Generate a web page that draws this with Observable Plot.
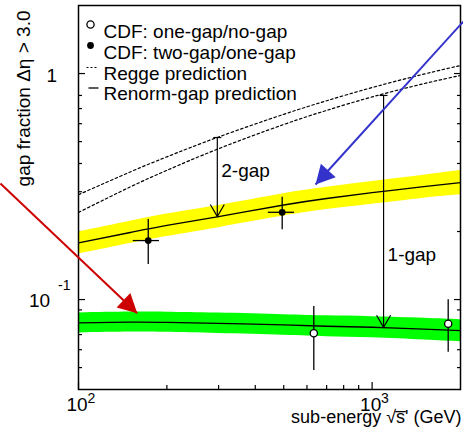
<!DOCTYPE html>
<html><head><meta charset="utf-8">
<script src="https://cdn.jsdelivr.net/npm/d3@7"></script>
<script src="https://cdn.jsdelivr.net/npm/@observablehq/plot@0.6"></script>
<style>body{margin:0;background:#fff} svg{display:block}</style>
</head><body><div id="chart"></div>
<script>
// ---- data ----
const energy        = [100, 150, 200, 300, 500, 700, 1000, 1500, 2000];
const renormTwoGap   = [0.178, 0.198, 0.213, 0.233, 0.262, 0.280, 0.297, 0.316, 0.329];
const renormTwoGapLo = [0.159, 0.177, 0.190, 0.208, 0.234, 0.250, 0.264, 0.281, 0.291];
const renormTwoGapHi = [0.199, 0.222, 0.239, 0.261, 0.294, 0.314, 0.333, 0.355, 0.372];
const renormOneGap   = [0.0788, 0.0795, 0.0793, 0.0785, 0.0772, 0.0762, 0.0754, 0.0740, 0.0728];
const renormOneGapLo = [0.0712, 0.0718, 0.0716, 0.0707, 0.0695, 0.0685, 0.0677, 0.0662, 0.0650];
const renormOneGapHi = [0.0872, 0.0880, 0.0879, 0.0871, 0.0857, 0.0847, 0.0840, 0.0827, 0.0815];
const reggeTwoGap    = [0.291, 0.367, 0.428, 0.524, 0.660, 0.758, 0.867, 0.994, 1.085];
const reggeOneGap    = [0.243, 0.315, 0.373, 0.465, 0.595, 0.687, 0.788, 0.902, 0.980];

// CDF one-gap/no-gap (open circles)
const cdfOneE   = [633, 1816];
const cdfOneVal = [0.0709, 0.0781];
const cdfOneLo  = [0.0485, 0.0585];
const cdfOneHi  = [0.0931, 0.0997];
// CDF two-gap/one-gap (filled)
const cdfTwoE    = [172.8, 494];
const cdfTwoELo  = [153.6, 443];
const cdfTwoEHi  = [188.7, 544];
const cdfTwoVal  = [0.1824, 0.2433];
const cdfTwoLo   = [0.1428, 0.2034];
const cdfTwoHi   = [0.226, 0.2836];

// gap arrows
const gapArrowE      = [297, 1094];
const gapArrowTop    = [0.521, 0.80];
const gapArrowBottom = [0.233, 0.0754];
const gapLabels      = ["2-gap", "1-gap"];
const gapLabelY      = [0.372, 0.158];

// coloured annotation arrows
const annotX1 = [54.2, 2340];
const annotY1 = [0.326, 2.061];
const annotX2 = [158.5, 641.7];
const annotY2 = [0.087, 0.3228];
const annotColors = ["#cc0000", "#3333cc"];
const annotAngles = [133.5, -137.8];

// axes
const xMajorTicks = [100, 1000];
const xExponents  = ["2", "3"];
const xMinorTicks = [200, 300, 400, 500, 600, 700, 800, 900];
const yMajorTicks = [0.1, 1];
const yMinorTicks = [0.05, 0.06, 0.07, 0.08, 0.09, 0.2, 0.3, 0.4, 0.5, 0.6, 0.7, 0.8];
const legendLabels = ["CDF: one-gap/no-gap", "CDF: two-gap/one-gap", "Regge prediction", "Renorm-gap prediction"];
const xTitle = "sub-energy \u221As\u0305' (GeV)";
const yTitle = "gap fraction \u0394\u03B7 > 3.0";

// ---- symbols ----
const capSym = {draw(c){ c.moveTo(-4,0); c.lineTo(4,0); }};
const vHeadSym = {draw(c){ c.moveTo(-7,-12); c.lineTo(0,0); c.lineTo(7,-12); }};
const triSym = {draw(c){ c.moveTo(0,0); c.lineTo(-10,19); c.lineTo(10,19); c.closePath(); }};
const hLineSym = (a, b) => ({draw(c){ c.moveTo(a,0); c.lineTo(b,0); }});

const FONT = "'Liberation Sans', Arial, Helvetica, sans-serif";
const I9 = d3.range(energy.length);
const I2 = [0, 1];
const noLabel = {tickFormat: () => "", label: null, strokeWidth: 1.2};

const marks = [
  // inward ticks (library axes, negative tick size)
  Plot.axisX(xMajorTicks, {anchor: "bottom", tickSize: -7, ...noLabel}),
  Plot.axisX(xMinorTicks, {anchor: "bottom", tickSize: -4, ...noLabel}),
  Plot.axisY(yMajorTicks, {anchor: "left", tickSize: -7, ...noLabel}),
  Plot.axisY(yMinorTicks, {anchor: "left", tickSize: -4, ...noLabel}),
  Plot.axisY(yMajorTicks, {anchor: "right", tickSize: -7, ...noLabel}),
  Plot.axisY(yMinorTicks, {anchor: "right", tickSize: -4, ...noLabel}),
  // tick labels
  Plot.text(xMajorTicks, {x: d => d, text: () => "10", frameAnchor: "bottom", dx: -12, dy: 21.5, textAnchor: "start", fontSize: 19, fontFamily: FONT}),
  Plot.text(xMajorTicks, {x: d => d, text: (d, i) => xExponents[i], frameAnchor: "bottom", dx: 9, dy: 13, textAnchor: "start", fontSize: 14, fontFamily: FONT}),
  Plot.text([1], {y: d => d, text: () => "1", frameAnchor: "left", dx: -21.5, dy: 2, textAnchor: "end", fontSize: 19, fontFamily: FONT}),
  Plot.text([0.1], {y: d => d, text: () => "10", frameAnchor: "left", dx: -49.5, dy: 1, textAnchor: "start", fontSize: 19, fontFamily: FONT}),
  Plot.text([0.1], {y: d => d, text: () => "-1", frameAnchor: "left", dx: -20.5, dy: -14.5, textAnchor: "start", fontSize: 14, fontFamily: FONT}),
  // axis titles
  Plot.text([yTitle], {frameAnchor: "top-left", rotate: -90, textAnchor: "end", dx: -62, dy: 5, fontSize: 19, fontFamily: FONT}),
  Plot.text([xTitle], {frameAnchor: "bottom-right", textAnchor: "end", dx: 1, dy: 33.5, fontSize: 18, fontFamily: FONT}),
  // bands
  Plot.areaY(I9, {x: i => energy[i], y1: i => renormTwoGapLo[i], y2: i => renormTwoGapHi[i], fill: "#ffff00", curve: "natural"}),
  Plot.areaY(I9, {x: i => energy[i], y1: i => renormOneGapLo[i], y2: i => renormOneGapHi[i], fill: "#00ff00", curve: "natural"}),
  Plot.frame({stroke: "black", strokeWidth: 1.5}),
  Plot.line(I9, {x: i => energy[i], y: i => renormTwoGap[i], stroke: "black", strokeWidth: 1.3, curve: "natural"}),
  Plot.line(I9, {x: i => energy[i], y: i => renormOneGap[i], stroke: "black", strokeWidth: 1.3, curve: "natural"}),
  Plot.line(I9, {x: i => energy[i], y: i => reggeTwoGap[i], stroke: "black", strokeWidth: 1.2, strokeDasharray: "2.5,2.5", curve: "natural"}),
  Plot.line(I9, {x: i => energy[i], y: i => reggeOneGap[i], stroke: "black", strokeWidth: 1.2, strokeDasharray: "2.5,2.5", curve: "natural"}),
  // gap arrows
  Plot.ruleX(I2, {x: i => gapArrowE[i], y1: i => gapArrowTop[i], y2: i => gapArrowBottom[i], stroke: "black", strokeWidth: 1.2}),
  Plot.dot(I2, {x: i => gapArrowE[i], y: i => gapArrowTop[i], symbol: capSym, fill: "none", stroke: "black", strokeWidth: 1.2}),
  Plot.dot(I2, {x: i => gapArrowE[i], y: i => gapArrowBottom[i], symbol: vHeadSym, fill: "none", stroke: "black", strokeWidth: 1.2}),
  Plot.text(I2, {x: i => gapArrowE[i], y: i => gapLabelY[i], text: i => gapLabels[i], dx: 4, textAnchor: "start", fontSize: 19, fontFamily: FONT}),
  // data points with error bars
  Plot.ruleX(I2, {x: i => cdfTwoE[i], y1: i => cdfTwoLo[i], y2: i => cdfTwoHi[i], stroke: "black", strokeWidth: 1.3}),
  Plot.ruleY(I2, {y: i => cdfTwoVal[i], x1: i => cdfTwoELo[i], x2: i => cdfTwoEHi[i], stroke: "black", strokeWidth: 1.3}),
  Plot.dot(I2, {x: i => cdfTwoE[i], y: i => cdfTwoVal[i], r: 3.4, fill: "black", stroke: "none"}),
  Plot.ruleX(I2, {x: i => cdfOneE[i], y1: i => cdfOneLo[i], y2: i => cdfOneHi[i], stroke: "black", strokeWidth: 1.3}),
  Plot.dot(I2, {x: i => cdfOneE[i], y: i => cdfOneVal[i], r: 3.6, fill: "white", stroke: "black", strokeWidth: 1.3}),
  // legend
  Plot.dot([0], {frameAnchor: "top-left", dx: 12, dy: 19, r: 3.6, fill: "white", stroke: "black", strokeWidth: 1.3}),
  Plot.dot([0], {frameAnchor: "top-left", dx: 12, dy: 40, r: 3.4, fill: "black", stroke: "none"}),
  Plot.dot([0], {frameAnchor: "top-left", dx: 14, dy: 62, symbol: hLineSym(-6, 6), fill: "none", stroke: "black", strokeWidth: 1.2, strokeDasharray: "2,2"}),
  Plot.dot([0], {frameAnchor: "top-left", dx: 15, dy: 82.5, symbol: hLineSym(-5, 5), fill: "none", stroke: "black", strokeWidth: 1.3}),
  ...legendLabels.map((label, i) => Plot.text([label], {frameAnchor: "top-left", dx: 25, dy: 19 + 20.8 * i, textAnchor: "start", fontSize: 19, fontFamily: FONT})),
  // coloured annotation arrows
  ...I2.map(i => Plot.link([i], {x1: () => annotX1[i], y1: () => annotY1[i], x2: () => annotX2[i], y2: () => annotY2[i], stroke: annotColors[i], strokeWidth: 2})),
  ...I2.map(i => Plot.dot([i], {x: () => annotX2[i], y: () => annotY2[i], symbol: triSym, rotate: annotAngles[i], fill: annotColors[i], stroke: "none"}))
];

const chart = Plot.plot({
  width: 463, height: 443,
  marginLeft: 78, marginRight: 3, marginTop: 5, marginBottom: 54,
  x: {type: "log", domain: [100, 2000]},
  y: {type: "log", domain: [0.04, 2]},
  style: {fontFamily: FONT, background: "white", color: "black", overflow: "visible"},
  marks
});
document.getElementById("chart").appendChild(chart);
</script>
</body></html>
